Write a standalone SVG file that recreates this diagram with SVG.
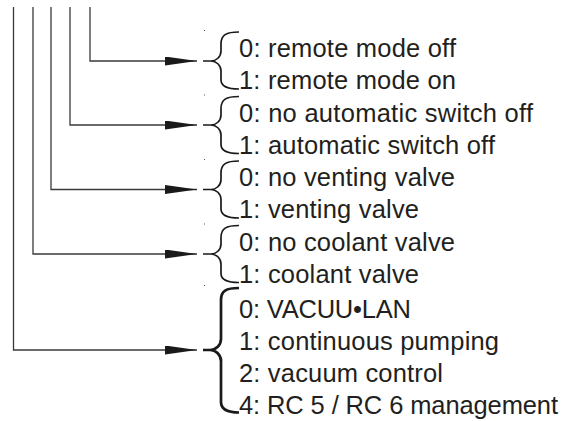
<svg xmlns="http://www.w3.org/2000/svg" width="575" height="421" viewBox="0 0 575 421">
<style>
.conn{fill:none;stroke:#3a3a3a;stroke-width:1.3}
.brace{fill:none;stroke:#1a1a1a;stroke-width:1.7;stroke-linecap:butt}
.brace.thick{stroke-width:2.7}
.lbl{font-family:"Liberation Sans",Arial,Helvetica,sans-serif;font-size:25.5px;fill:#231f20}
.speck{fill:#555}
</style>
<defs>
<marker id="arr" viewBox="0 0 32 9" refX="32" refY="4.5" markerWidth="32" markerHeight="9" markerUnits="userSpaceOnUse" orient="auto">
<path d="M0,0 L32,4.5 L0,9 Z" fill="#1a1a1a"/>
</marker>
</defs>
<rect width="575" height="421" fill="#ffffff"/>
<g id="connectors">
<polyline class="conn" points="90,7 90,61 197,61" marker-end="url(#arr)"/>
<polyline class="conn" points="70,7 70,125 197,125" marker-end="url(#arr)"/>
<polyline class="conn" points="51,7 51,189.5 197,189.5" marker-end="url(#arr)"/>
<polyline class="conn" points="33,7 33,254 197,254" marker-end="url(#arr)"/>
<polyline class="conn" points="13.5,7 13.5,350 197,350" marker-end="url(#arr)"/>
</g>
<g id="group-remote">
<rect class="speck" x="204" y="30" width="1" height="1"/>
<path class="brace" d="M239,32 C226,32 221,35 221,44 L221,51 C221,57 216,61 211,61 L203,61 M211,61 C216,61 221,65 221,71 L221,80 C221,86 226,89 239,89"/>
<text class="lbl" x="239" y="57" textLength="217">0: remote mode off</text>
<text class="lbl" x="239" y="89" textLength="217">1: remote mode on</text>
</g>
<g id="group-autoswitch">
<rect class="speck" x="204" y="94.5" width="1" height="1"/>
<path class="brace" d="M239,96.5 C226,96.5 221,99.5 221,108.5 L221,115 C221,121 216,125 211,125 L203,125 M211,125 C216,125 221,129 221,135 L221,144.5 C221,150.5 226,153.5 239,153.5"/>
<text class="lbl" x="239" y="121.5" textLength="294">0: no automatic switch off</text>
<text class="lbl" x="239" y="153.5" textLength="256">1: automatic switch off</text>
</g>
<g id="group-venting">
<rect class="speck" x="204" y="159" width="1" height="1"/>
<path class="brace" d="M239,161 C226,161 221,164 221,173 L221,179.5 C221,185.5 216,189.5 211,189.5 L203,189.5 M211,189.5 C216,189.5 221,193.5 221,199.5 L221,209 C221,215 226,218 239,218"/>
<text class="lbl" x="239" y="186" textLength="216">0: no venting valve</text>
<text class="lbl" x="239" y="218" textLength="180">1: venting valve</text>
</g>
<g id="group-coolant">
<rect class="speck" x="204" y="223.5" width="1" height="1"/>
<path class="brace" d="M239,225.5 C226,225.5 221,228.5 221,237.5 L221,244 C221,250 216,254 211,254 L203,254 M211,254 C216,254 221,258 221,264 L221,273.5 C221,279.5 226,282.5 239,282.5"/>
<text class="lbl" x="239" y="250.5" textLength="216">0: no coolant valve</text>
<text class="lbl" x="239" y="282.5" textLength="180">1: coolant valve</text>
</g>
<g id="group-mode">
<rect class="speck" x="204" y="285" width="1" height="1"/>
<path class="brace thick" d="M239,288 C226,288 221,291 221,300 L221,339 C221,345 216,350 210,350 L203,350 M210,350 C216,350 221,355 221,361 L221,402 C221,409 226,412.5 239,412.5"/>
<text class="lbl" x="239" y="318" textLength="172">0: VACUU•LAN</text>
<text class="lbl" x="239" y="350" textLength="260">1: continuous pumping</text>
<text class="lbl" x="239" y="382" textLength="204">2: vacuum control</text>
<text class="lbl" x="239" y="413.5" textLength="319">4: RC 5 / RC 6 management</text>
</g>
</svg>
